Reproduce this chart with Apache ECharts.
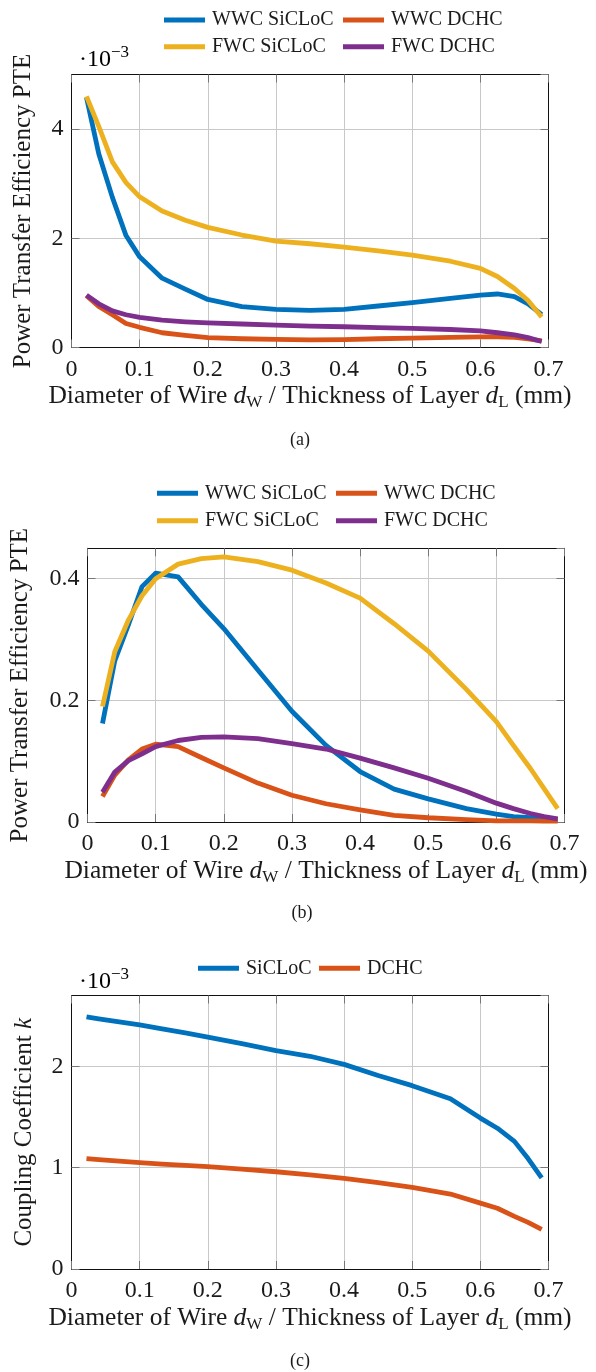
<!DOCTYPE html>
<html>
<head>
<meta charset="utf-8">
<script src="https://cdn.jsdelivr.net/npm/echarts@6/dist/echarts.min.js"></script>
<style>
html,body{margin:0;padding:0;background:#fff;}
#c{width:596px;height:1372px;}
</style>
</head>
<body>
<div id="c"></div>
<script>
// ---------- data ----------
// wire diameter / layer thickness (mm)
var xVals = [0.022, 0.04, 0.06, 0.08, 0.1, 0.133, 0.167, 0.2, 0.25, 0.3, 0.35, 0.4, 0.45, 0.5, 0.556, 0.6, 0.625, 0.65, 0.67, 0.69];
var xTickLabels = ['0', '0.1', '0.2', '0.3', '0.4', '0.5', '0.6', '0.7'];

// (a) PTE, units of 1e-3
var aWwcSicloc = [4.58, 3.55, 2.75, 2.05, 1.66, 1.27, 1.07, 0.88, 0.75, 0.70, 0.68, 0.70, 0.76, 0.82, 0.90, 0.96, 0.98, 0.93, 0.80, 0.60];
var aWwcDchc   = [0.95, 0.75, 0.60, 0.44, 0.37, 0.27, 0.22, 0.18, 0.16, 0.15, 0.14, 0.146, 0.16, 0.17, 0.185, 0.195, 0.197, 0.185, 0.16, 0.12];
var aFwcSicloc = [4.60, 4.05, 3.40, 3.02, 2.76, 2.50, 2.33, 2.20, 2.06, 1.95, 1.90, 1.84, 1.77, 1.69, 1.58, 1.45, 1.30, 1.08, 0.86, 0.56];
var aFwcDchc   = [0.96, 0.80, 0.67, 0.60, 0.55, 0.50, 0.47, 0.45, 0.43, 0.41, 0.39, 0.38, 0.365, 0.35, 0.33, 0.305, 0.27, 0.23, 0.18, 0.11];
var aYTickLabels = ['0', '2', '4'];

// (b) PTE
var bWwcSicloc = [0.162, 0.265, 0.324, 0.387, 0.409, 0.403, 0.358, 0.318, 0.25, 0.182, 0.126, 0.083, 0.054, 0.038, 0.022, 0.013, 0.009, 0.007, 0.005, 0.004];
var bWwcDchc   = [0.042, 0.077, 0.102, 0.12, 0.128, 0.124, 0.106, 0.089, 0.064, 0.044, 0.030, 0.020, 0.011, 0.007, 0.004, 0.002, 0.002, 0.0017, 0.0016, 0.0015];
var bFwcSicloc = [0.19, 0.28, 0.332, 0.372, 0.40, 0.424, 0.433, 0.436, 0.428, 0.414, 0.393, 0.368, 0.326, 0.281, 0.218, 0.165, 0.126, 0.088, 0.055, 0.022];
var bFwcDchc   = [0.049, 0.082, 0.101, 0.112, 0.124, 0.134, 0.139, 0.140, 0.137, 0.129, 0.12, 0.105, 0.089, 0.072, 0.05, 0.031, 0.022, 0.014, 0.009, 0.005];
var bYTickLabels = ['0', '0.2', '0.4'];

// (c) coupling coefficient, units of 1e-3
var cSicloc = [2.49, 2.47, 2.45, 2.43, 2.41, 2.37, 2.33, 2.29, 2.225, 2.155, 2.10, 2.02, 1.91, 1.81, 1.68, 1.49, 1.39, 1.26, 1.09, 0.90];
var cDchc   = [1.09, 1.08, 1.07, 1.06, 1.05, 1.036, 1.022, 1.01, 0.985, 0.96, 0.93, 0.895, 0.852, 0.806, 0.74, 0.65, 0.60, 0.52, 0.46, 0.39];
var cYTickLabels = ['0', '1', '2'];

// ---------- styling ----------
var FONT = '"Liberation Serif", "Times New Roman", serif';
var COL = {blue:'#0072BD', orange:'#D95319', yellow:'#EDB120', purple:'#7E2F8E'};
var LW = 4.8;
var TXT = '#1a1a1a';

function pairs(ys){ return xVals.map(function(x,i){ return [x, ys[i]]; }); }

var grids = [
  {left:71.5, top:74.5, width:477, height:273},
  {left:87.5, top:548.3, width:477, height:273.7},
  {left:71.5, top:995.5, width:477, height:273.5}
];
var yCfg = [
  {max:5, interval:2, labels:aYTickLabels, name:'{r|Power Transfer Efficiency PTE}', gap:35},
  {max:0.45, interval:0.2, labels:bYTickLabels, name:'{r|Power Transfer Efficiency PTE}', gap:54},
  {max:2.7, interval:1, labels:cYTickLabels, name:'{r|Coupling Coefficient }{i|k}', gap:34}
];

var xTitle = '{r|Diameter of Wire }{i|d}{s|W}{r| / Thickness of Layer }{i|d}{s|L}{r| (mm)}';
var richTitle = {
  r:{fontFamily:FONT, fontSize:25.5, color:TXT, lineHeight:30},
  i:{fontFamily:FONT, fontSize:25.5, fontStyle:'italic', color:TXT, lineHeight:30},
  s:{fontFamily:FONT, fontSize:17, color:TXT, lineHeight:17, verticalAlign:'bottom'}
};

var xAxes = [], yAxes = [];
grids.forEach(function(g, gi){
  xAxes.push({
    type:'value', gridIndex:gi, min:0, max:0.7, interval:0.1, position:'bottom',
    axisLine:{show:true, onZero:false, lineStyle:{color:'#111', width:1}},
    axisTick:{show:true, inside:true, length:8, lineStyle:{color:'#777'}},
    splitLine:{show:true, lineStyle:{color:'#c8c8c8', width:1}},
    axisLabel:{fontFamily:FONT, fontSize:24, color:TXT, margin:10,
      formatter:function(v){ var k=Math.round(v*10); return Math.abs(v*10-k)<1e-6 ? (xTickLabels[k]||'') : ''; }},
    name:xTitle, nameLocation:'middle', nameGap:34,
    nameTextStyle:{rich:richTitle}
  });
  xAxes.push({
    type:'value', gridIndex:gi, min:0, max:0.7, interval:0.1, position:'top',
    axisLine:{show:true, onZero:false, lineStyle:{color:'#111', width:1}},
    axisTick:{show:true, inside:true, length:8, lineStyle:{color:'#777'}},
    splitLine:{show:false}, axisLabel:{show:false}
  });
  var yc = yCfg[gi];
  yAxes.push({
    type:'value', gridIndex:gi, min:0, max:yc.max, interval:yc.interval, position:'left',
    axisLine:{show:true, onZero:false, lineStyle:{color:'#111', width:1}},
    axisTick:{show:true, inside:true, length:8, lineStyle:{color:'#777'}},
    splitLine:{show:true, lineStyle:{color:'#c8c8c8', width:1}},
    axisLabel:{fontFamily:FONT, fontSize:24, color:TXT, margin:8, showMaxLabel:false,
      formatter:(function(labs, step){ return function(v){ var k=Math.round(v/step); return Math.abs(v/step-k)<1e-6 ? (labs[k]||'') : ''; }; })(yc.labels, yc.interval)},
    name:yc.name, nameLocation:'middle', nameGap:yc.gap, nameRotate:90,
    nameTextStyle:{rich:{
      r:{fontFamily:FONT, fontSize:25, color:TXT, lineHeight:26},
      i:{fontFamily:FONT, fontSize:25, fontStyle:'italic', color:TXT, lineHeight:26}
    }}
  });
  yAxes.push({
    type:'value', gridIndex:gi, min:0, max:yc.max, interval:yc.interval, position:'right',
    axisLine:{show:true, onZero:false, lineStyle:{color:'#111', width:1}},
    axisTick:{show:true, inside:true, length:8, lineStyle:{color:'#777'}},
    splitLine:{show:false}, axisLabel:{show:false}
  });
});

function line(name, gi, ys, color){
  return {
    name:name, type:'line', xAxisIndex:gi*2, yAxisIndex:gi*2, data:pairs(ys),
    symbol:'none', smooth:false, silent:true, animation:false,
    lineStyle:{color:color, width:LW, join:'round', cap:'butt'}, itemStyle:{color:color}
  };
}

var series = [
  line('WWC SiCLoC', 0, aWwcSicloc, COL.blue),
  line('WWC DCHC', 0, aWwcDchc, COL.orange),
  line('FWC SiCLoC', 0, aFwcSicloc, COL.yellow),
  line('FWC DCHC', 0, aFwcDchc, COL.purple),
  line('WWC SiCLoC', 1, bWwcSicloc, COL.blue),
  line('WWC DCHC', 1, bWwcDchc, COL.orange),
  line('FWC SiCLoC', 1, bFwcSicloc, COL.yellow),
  line('FWC DCHC', 1, bFwcDchc, COL.purple),
  line('SiCLoC', 2, cSicloc, COL.blue),
  line('DCHC', 2, cDchc, COL.orange)
];

function leg(name, left, cy){
  return {
    data:[{name:name, icon:'rect'}], left:left, top:cy-10, padding:0,
    itemWidth:41, itemHeight:5, selectedMode:false,
    textStyle:{fontFamily:FONT, fontSize:20, color:TXT, lineHeight:20, padding:[0,0,0,2]}
  };
}
var legends = [
  leg('WWC SiCLoC', 164, 20), leg('WWC DCHC', 343, 20),
  leg('FWC SiCLoC', 164, 46.7), leg('FWC DCHC', 343, 46.7),
  leg('WWC SiCLoC', 157, 493.3), leg('WWC DCHC', 336, 493.3),
  leg('FWC SiCLoC', 157, 520.7), leg('FWC DCHC', 336, 520.7),
  leg('SiCLoC', 198, 968.3), leg('DCHC', 319, 968.3)
];

function expLabel(y){
  return {type:'text', left:79, top:y, silent:true, style:{
    text:'{a|·10}{b|−3}', rich:{
      a:{fontFamily:FONT, fontSize:24, color:TXT, lineHeight:28, verticalAlign:'bottom'},
      b:{fontFamily:FONT, fontSize:17, color:TXT, lineHeight:17, verticalAlign:'top'}
    }}};
}
function caption(t, x, y){
  return {type:'text', x:x, y:y, silent:true, style:{text:t, fontFamily:FONT, fontSize:18, fill:TXT, textAlign:'center', textVerticalAlign:'middle'}};
}

var chart = echarts.init(document.getElementById('c'), null, {renderer:'canvas'});
chart.setOption({
  animation:false,
  backgroundColor:'#fff',
  grid:grids,
  xAxis:xAxes,
  yAxis:yAxes,
  legend:legends,
  series:series,
  graphic:[
    expLabel(44), expLabel(966),
    caption('(a)', 300, 440), caption('(b)', 302, 913), caption('(c)', 300, 1361)
  ]
});
</script>
</body>
</html>
